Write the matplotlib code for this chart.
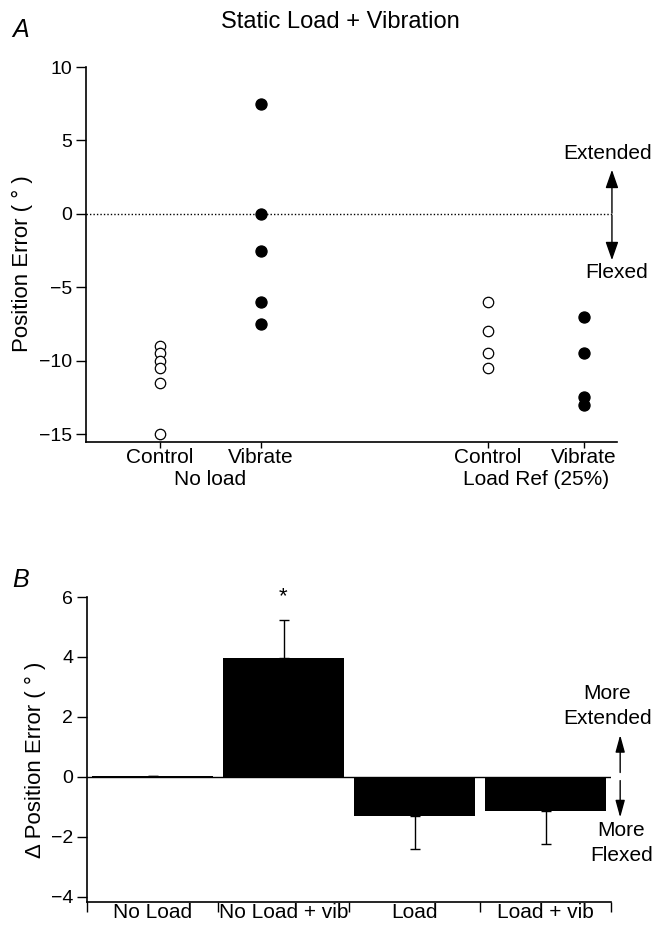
import matplotlib
matplotlib.use("Agg")
import matplotlib.pyplot as plt
import numpy as np

plt.rcParams['font.family'] = ['Liberation Sans', 'DejaVu Sans']

# ---- Panel A data ----
a_positions = [1, 2, 4.24, 5.19]
a_ticklabels = ["Control", "Vibrate", "Control", "Vibrate"]
a_group_labels = ["No load", "Load Ref (25%)"]
noload_control = [-9, -9.5, -10, -10.5, -11.5, -15]
noload_vibrate = [7.5, 0, -2.5, -6, -7.5]
load_control = [-6, -8, -9.5, -10.5]
load_vibrate = [-7, -9.5, -12.5, -13]

# ---- Panel B data ----
b_categories = ["No Load", "No Load + vib", "Load", "Load + vib"]
b_values = [0.03, 3.95, -1.3, -1.15]
b_err_up = [0, 1.27, 0, 0]
b_err_down = [0, 0, 1.1, 1.08]

fig = plt.figure(figsize=(6.67, 9.26), dpi=100)

# ================= Panel A =================
axA = fig.add_axes([86/667, 1-442/926, (617-86)/667, (442-67)/926])
groups = [noload_control, noload_vibrate, load_control, load_vibrate]
filled = [False, True, False, True]
for xpos, vals, f in zip(a_positions, groups, filled):
    axA.plot([xpos]*len(vals), vals, 'o', ms=7.5 if not f else 8,
             mfc='black' if f else 'white', mec='black', mew=0.9,
             clip_on=False, zorder=3)
axA.set_xlim(0.27, 5.52)
axA.set_ylim(-15.53, 10)
axA.set_yticks([10, 5, 0, -5, -10, -15])
axA.set_yticklabels(["10", "5", "0", "\u22125", "\u221210", "\u221215"])
axA.set_xticks(a_positions)
axA.set_xticklabels(a_ticklabels)
axA.spines['top'].set_visible(False)
axA.spines['right'].set_visible(False)
axA.tick_params(axis='y', direction='out', length=7, width=1, labelsize=14, pad=3)
axA.tick_params(axis='x', direction='out', length=4, width=1, labelsize=15, pad=0.5)
for s in axA.spines.values():
    s.set_linewidth(1.2)
axA.set_ylabel("Position Error ( \u00b0 )", fontsize=16)
axA.yaxis.set_label_coords((33-86)/531, 0.477)
axA.plot([0.27, 5.47], [0, 0], linestyle=(0, (1, 1.5)), color='black', lw=1)
# arrows
arrA = dict(arrowstyle='-|>,head_length=0.8,head_width=0.28', color='black', lw=1,
            mutation_scale=14, shrinkA=0, shrinkB=0)
axA.annotate("", xy=(5.47, 3.0), xytext=(5.47, 0.05), arrowprops=arrA,
             annotation_clip=False)
axA.annotate("", xy=(5.47, -3.15), xytext=(5.47, -0.1), arrowprops=arrA,
             annotation_clip=False)
axA.text(5.43, 4.1, "Extended", ha='center', va='center', fontsize=15, clip_on=False)
axA.text(5.52, -4.0, "Flexed", ha='center', va='center', fontsize=15, clip_on=False)
# group labels
axA.text(np.mean(a_positions[:2]), -18.1, a_group_labels[0],
         ha='center', va='center', fontsize=15)
axA.text(np.mean(a_positions[2:]), -18.1, a_group_labels[1],
         ha='center', va='center', fontsize=15)

fig.text(340/667, 1-22/926, "Static Load + Vibration", ha='center', va='center', fontsize=17)
fig.text(12/667, 1-30/926, "A", ha='left', va='center', fontsize=18, style='italic')

# ================= Panel B =================
axB = fig.add_axes([87/667, 1-902/926, (611-87)/667, (902-597)/926])
xb = np.arange(len(b_categories))
axB.bar(xb, b_values, width=0.93, color='black', zorder=2)
axB.errorbar(xb, b_values, yerr=[b_err_down, b_err_up], fmt='none',
             ecolor='black', elinewidth=1, capsize=3.5, capthick=1, zorder=1)
axB.axhline(0, color='black', lw=1, zorder=1)
axB.set_xlim(-0.5, 3.5)
axB.set_ylim(-4.167, 6)
axB.set_yticks([6, 4, 2, 0, -2, -4])
axB.set_yticklabels(["6", "4", "2", "0", "\u22122", "\u22124"])
axB.spines['top'].set_visible(False)
axB.spines['right'].set_visible(False)
for s in axB.spines.values():
    s.set_linewidth(1.2)
axB.set_xticks([-0.5, 0.5, 1.5, 2.5, 3.5])
axB.set_xticklabels([])
axB.set_xticks(xb, minor=True)
axB.set_xticklabels(b_categories, minor=True)
axB.tick_params(axis='x', which='major', direction='out', length=7, width=1)
axB.tick_params(axis='x', which='minor', length=0, labelsize=15, pad=1)
axB.tick_params(axis='y', direction='out', length=7, width=1, labelsize=14, pad=3)
axB.set_ylabel("\u0394 Position Error ( \u00b0 )", fontsize=16)
axB.yaxis.set_label_coords((46-87)/524, 0.466)
axB.text(1, 6.0, "*", ha='center', va='center', fontsize=16, clip_on=False)
arrB = dict(arrowstyle='-|>,head_length=0.8,head_width=0.22', color='black', lw=1,
            mutation_scale=13, shrinkA=0, shrinkB=0)
axB.annotate("", xy=(3.57, 1.4), xytext=(3.57, 0.15), arrowprops=arrB,
             annotation_clip=False)
axB.annotate("", xy=(3.57, -1.35), xytext=(3.57, -0.12), arrowprops=arrB,
             annotation_clip=False)
axB.text(3.47, 2.35, "More\nExtended", ha='center', va='center', fontsize=15,
         linespacing=1.4, clip_on=False)
axB.text(3.58, -2.2, "More\nFlexed", ha='center', va='center', fontsize=15,
         linespacing=1.4, clip_on=False)
fig.text(12/667, 1-580/926, "B", ha='left', va='center', fontsize=18, style='italic')

fig.savefig("out.png", dpi=100)
